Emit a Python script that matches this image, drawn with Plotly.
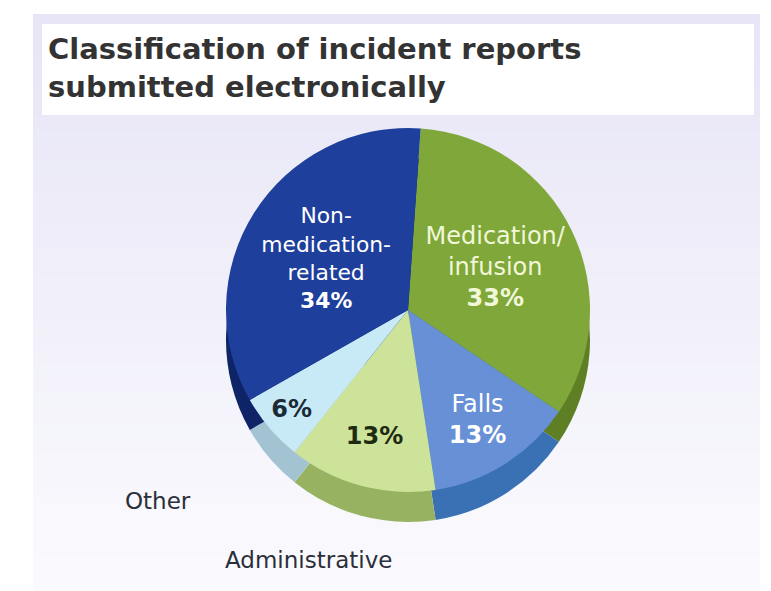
import plotly.graph_objects as go

# ---- data ----
categories = ["Medication/<br>infusion", "Falls", "Administrative", "Other", "Non-<br>medication-<br>related"]
names = ["Medication/infusion", "Falls", "Administrative", "Other", "Non-medication-related"]
values = [33, 13, 13, 6, 34]
pct_labels = ["33%", "13%", "13%", "6%", "34%"]

top_colors = ["#7fa73a", "#6790d6", "#cde399", "#c8e9f6", "#1f3f9c"]
side_colors = ["#5e7f24", "#3a70b4", "#97b361", "#a3c3d3", "#0f2466"]
text_colors = ["#f1f7d8", "#ffffff", "#1f2a12", "#1a2a36", "#ffffff"]

W, H = 771, 591


def px(x):
    return x / W


def py(y):
    return 1 - y / H


cx, cy, r, depth = 400, 302, 182, 30

slice_text = []
for c, p in zip(categories, pct_labels):
    if c in ("Administrative", "Other"):
        slice_text.append("<b>" + p + "</b>")
    else:
        slice_text.append(c + "<br><b>" + p + "</b>")

fig = go.Figure()

# side wall (depth) pie
fig.add_trace(go.Pie(
    values=values, labels=names, sort=False, direction="clockwise", rotation=4,
    marker=dict(colors=side_colors, line=dict(width=0)),
    textinfo="none", hoverinfo="skip", showlegend=False,
    domain=dict(x=[px(cx - r), px(cx + r)], y=[py(cy + r + depth), py(cy - r + depth)]),
))

# top surface pie
fig.add_trace(go.Pie(
    values=values, labels=names, sort=False, direction="clockwise", rotation=4,
    marker=dict(colors=top_colors, line=dict(width=0)),
    text=slice_text, textinfo="text", textposition="inside",
    insidetextorientation="horizontal",
    textfont=dict(family="DejaVu Sans", size=24, color=text_colors),
    hovertemplate="%{label}: %{value}%<extra></extra>",
    showlegend=False,
    domain=dict(x=[px(cx - r), px(cx + r)], y=[py(cy + r), py(cy - r)]),
))

shapes = []
# background gradient (lavender to white)
n = 40
top_rgb = (231, 229, 246)
bot_rgb = (251, 251, 254)
y0, y1 = 6, 591
for i in range(n):
    t = i / (n - 1)
    col = tuple(round(a + (b - a) * t) for a, b in zip(top_rgb, bot_rgb))
    ya = y0 + (y1 - y0) * i / n
    yb = y0 + (y1 - y0) * (i + 1) / n + 1
    shapes.append(dict(type="rect", xref="paper", yref="paper", layer="below",
                       x0=px(25), x1=px(752), y0=py(yb), y1=py(ya),
                       fillcolor="rgb(%d,%d,%d)" % col, line=dict(width=0)))
# title box
shapes.append(dict(type="rect", xref="paper", yref="paper", layer="below",
                   x0=px(34), x1=px(746), y0=py(107), y1=py(16),
                   fillcolor="#ffffff", line=dict(width=0)))

annotations = [
    dict(text="<b>Classification of incident reports<br>submitted electronically</b>",
         xref="paper", yref="paper", x=px(38), y=py(22), xanchor="left", yanchor="top",
         align="left", showarrow=False,
         font=dict(family="DejaVu Sans", size=29, color="#333333")),
    dict(text=names[3], xref="paper", yref="paper", x=px(150), y=py(493),
         xanchor="center", yanchor="middle", showarrow=False,
         font=dict(family="DejaVu Sans", size=23, color="#2b2f3a")),
    dict(text=names[2], xref="paper", yref="paper", x=px(300), y=py(552),
         xanchor="center", yanchor="middle", showarrow=False,
         font=dict(family="DejaVu Sans", size=23, color="#2b2f3a")),
]

fig.update_layout(
    width=W, height=H,
    margin=dict(l=0, r=0, t=0, b=0),
    paper_bgcolor="#ffffff",
    plot_bgcolor="#ffffff",
    shapes=shapes,
    annotations=annotations,
)

fig.write_html("out.html")
